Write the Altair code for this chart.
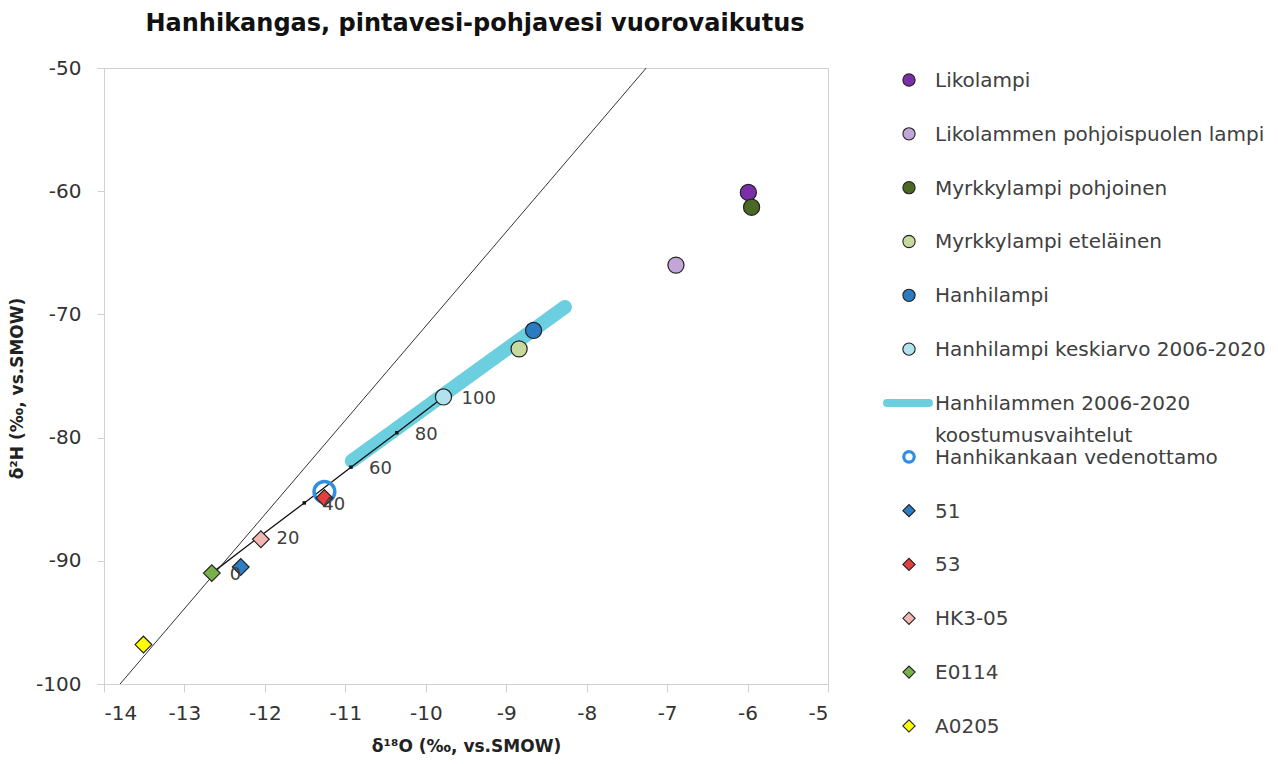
import altair as alt
import pandas as pd

# ---------------- data ----------------
series = ["Likolampi", "Likolammen pohjoispuolen lampi", "Myrkkylampi pohjoinen",
          "Myrkkylampi eteläinen", "Hanhilampi", "Hanhilampi keskiarvo 2006-2020",
          "Hanhikankaan vedenottamo", "51", "53", "HK3-05", "E0114", "A0205"]
d18O = [-5.99, -6.89, -5.95, -8.84, -8.66, -9.78, -11.26, -12.30, -11.26, -12.05, -12.66, -13.51]
d2H = [-60.1, -66.0, -61.3, -72.8, -71.3, -76.7, -84.4, -90.5, -84.9, -88.25, -91.0, -96.8]

# mixing line E0114 -> Hanhilampi mean (percent of surface water)
mix_pct = [0, 20, 40, 60, 80, 100]
mix_d18O = [-12.66, -12.08, -11.51, -10.93, -10.36, -9.78]
mix_d2H = [-91.0, -88.1, -85.3, -82.4, -79.6, -76.7]

# Hanhilampi 2006-2020 range of composition
band_d18O = [-10.92, -8.27]
band_d2H = [-81.9, -69.4]

# local meteoric water line end points
lmwl_d18O = [-13.80, -7.26]
lmwl_d2H = [-100.0, -50.0]

band_label = "Hanhilammen 2006-2020\nkoostumusvaihtelut"
legend_labels = series[:6] + [band_label] + series[6:]

ring = ["Hanhikankaan vedenottamo"]
circles = series[:6]
diamonds = series[7:]

# ---------------- styles ----------------
fills = ["#7a2fa8", "#c3a6d8", "#4a6a24", "#c5da9c", "#2a7cc2", "#b2e2ec",
         "#ffffff", "#2c7fc4", "#e0403f", "#f4b5b5", "#79b04a", "#ffff00"]
RING = "#2f8fe3"
EDGE = "#222222"
BAND = "#6ccfe0"

FONT = "DejaVu Sans, Liberation Sans, sans-serif"
GRAY = "#d0d0d0"
MINUS = "replace(datum.label, '\u2212', '-')"

pts = pd.DataFrame({"series": series, "d18O": d18O, "d2H": d2H})
mix = pd.DataFrame({"pct": mix_pct, "d18O": mix_d18O, "d2H": mix_d2H})
band = pd.DataFrame({"d18O": band_d18O, "d2H": band_d2H})
lmwl = pd.DataFrame({"d18O": lmwl_d18O, "d2H": lmwl_d2H})

xs = alt.Scale(domain=[-14, -5], nice=False, zero=False)
ys = alt.Scale(domain=[-100, -50], nice=False, zero=False)

x_axis = alt.Axis(title="δ¹⁸O (‰, vs.SMOW)", values=list(range(-14, -4)), grid=False,
                  domainColor=GRAY, tickColor=GRAY, tickSize=8, labelFont=FONT,
                  labelFontSize=20, labelColor="#333333", labelPadding=11, labelExpr=MINUS,
                  titleFont=FONT, titleFontSize=17, titleFontWeight="bold",
                  titleColor="#222222", titlePadding=15)
y_axis = alt.Axis(title="δ²H (‰, vs.SMOW)", values=list(range(-100, -49, 10)), grid=False,
                  domainColor=GRAY, tickColor=GRAY, tickSize=7, labelFont=FONT,
                  labelFontSize=20, labelColor="#333333", labelPadding=16, labelExpr=MINUS,
                  titleFont=FONT, titleFontSize=17, titleFontWeight="bold",
                  titleColor="#222222", titlePadding=9, titleY=320)

X = alt.X("d18O:Q", scale=xs, axis=x_axis)
Y = alt.Y("d2H:Q", scale=ys, axis=y_axis)

fill_scale = alt.Scale(domain=series, range=fills)

l_lmwl = alt.Chart(lmwl).mark_line(color="#333333", strokeWidth=1).encode(x=X, y=Y)
l_band = alt.Chart(band).mark_line(color=BAND, strokeWidth=14, strokeCap="round").encode(x=X, y=Y)
l_mix = alt.Chart(mix).mark_line(color="#111111", strokeWidth=1.3).encode(x=X, y=Y)
l_mixpts = alt.Chart(mix).transform_filter("datum.pct > 0 && datum.pct < 100").mark_point(
    shape="square", filled=True, color="#111111", size=12, opacity=1).encode(x=X, y=Y)
l_mixlab = alt.Chart(mix).mark_text(align="left", baseline="middle", dx=18, dy=2,
                                    font=FONT, fontSize=18, color="#404040").encode(
    x=X, y=Y, text="pct:N")

l_circ = alt.Chart(pts).transform_filter(alt.FieldOneOfPredicate(field="series", oneOf=circles)).mark_point(
    filled=True, opacity=1, shape="circle", size=260, stroke=EDGE, strokeWidth=1.2).encode(
    x=X, y=Y, fill=alt.Fill("series:N", scale=fill_scale, legend=None))
l_ring = alt.Chart(pts).transform_filter(alt.FieldOneOfPredicate(field="series", oneOf=ring)).mark_point(
    filled=False, opacity=1, shape="circle", size=430, stroke=RING, strokeWidth=3.5).encode(x=X, y=Y)
l_diam = alt.Chart(pts).transform_filter(alt.FieldOneOfPredicate(field="series", oneOf=diamonds)).mark_point(
    filled=True, opacity=1, shape="diamond", size=280, stroke=EDGE, strokeWidth=1.2).encode(
    x=X, y=Y, fill=alt.Fill("series:N", scale=fill_scale, legend=None))

main = alt.layer(l_lmwl, l_band, l_mix, l_mixpts, l_circ, l_ring, l_diam, l_mixlab).properties(
    width=724, height=616,
    view=alt.ViewBackground(stroke=GRAY),
    title=alt.TitleParams("Hanhikangas, pintavesi-pohjavesi vuorovaikutus", font=FONT,
                          fontSize=24, fontWeight="bold", color="#111111", offset=22,
                          anchor="middle", dx=9),
)

# ---------------- hand-built legend ----------------
leg = pd.DataFrame({"label": legend_labels, "idx": list(range(len(legend_labels)))})
LY = alt.Y("idx:Q", scale=alt.Scale(domain=[-0.223, 12.224], nice=False, zero=False, reverse=True), axis=None)
SX = alt.value(69)

g_line = alt.Chart(leg).transform_filter(alt.FieldEqualPredicate(field="label", equal=band_label)).mark_rule(
    color=BAND, strokeWidth=8, strokeCap="round").encode(x=alt.value(47), x2=alt.value(89), y=LY)
g_circ = alt.Chart(leg).transform_filter(alt.FieldOneOfPredicate(field="label", oneOf=circles)).mark_point(
    filled=True, opacity=1, shape="circle", size=150, stroke=EDGE, strokeWidth=1.1).encode(
    x=SX, y=LY, fill=alt.Fill("label:N", scale=fill_scale, legend=None))
g_ring = alt.Chart(leg).transform_filter(alt.FieldOneOfPredicate(field="label", oneOf=ring)).mark_point(
    filled=True, opacity=1, shape="circle", size=110, fill="#ffffff", stroke=RING, strokeWidth=3.2).encode(
    x=SX, y=LY)
g_diam = alt.Chart(leg).transform_filter(alt.FieldOneOfPredicate(field="label", oneOf=diamonds)).mark_point(
    filled=True, opacity=1, shape="diamond", size=150, stroke=EDGE, strokeWidth=1.1).encode(
    x=SX, y=LY, fill=alt.Fill("label:N", scale=fill_scale, legend=None))
g_txt = alt.Chart(leg).mark_text(align="left", baseline="alphabetic", dy=7, lineBreak="\n",
                                 lineHeight=32, font=FONT, fontSize=20, color="#404040").encode(
    x=alt.value(95), y=LY, text="label:N")

legend = alt.layer(g_line, g_circ, g_ring, g_diam, g_txt).properties(width=300, height=670)

chart = alt.hconcat(main, legend, spacing=10).resolve_scale(fill="independent").properties(
    padding={"left": 0, "top": 3, "right": 0, "bottom": 0}
).configure_view(stroke="transparent")

chart.save("out.html", embed_options={"renderer": "svg", "actions": False})
